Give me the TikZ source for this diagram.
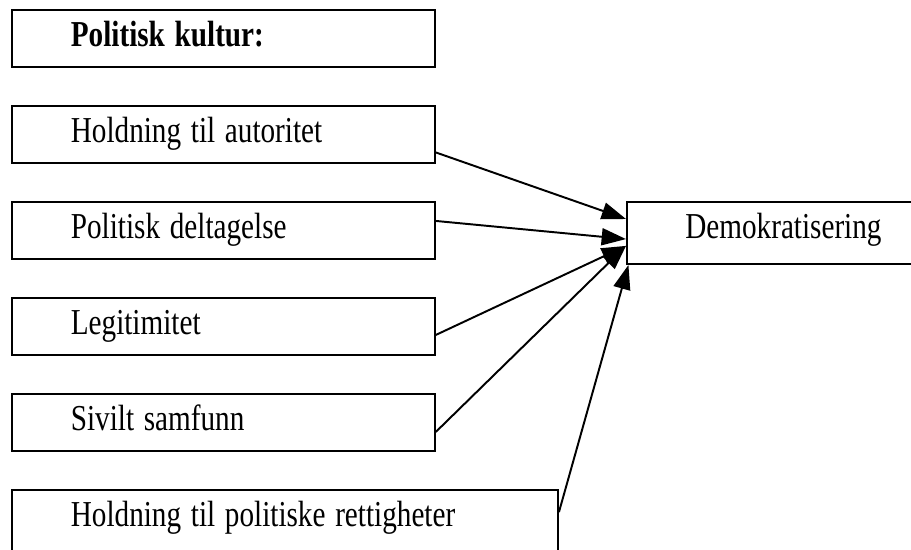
\documentclass[tikz,border=0pt]{standalone}
\usepackage{fontspec}
\setmainfont{Liberation Serif}
\usetikzlibrary{arrows.meta}
\newcommand\tekst[1]{\scalebox{1}[1.25]{#1}}

\begin{document}
\begin{tikzpicture}[x=0.411pt, y=-0.411pt, line width=0.8pt,
        faktor/.style={draw, anchor=north west, align=left, text width=125.4pt,
            inner xsep=24.2pt, inner ysep=4pt, text height=11pt, text depth=4.4pt,
            font=\fontsize{12}{14}\selectfont},
        pil/.style={-{Triangle[length=10pt,width=7pt]}}]
    \useasboundingbox (0,0) rectangle (911,550);
    \node[faktor] (kultur) at (11,9) {\tekst{\textbf{Politisk kultur:}}};
    \node[faktor] (autoritet) at (11,105) {\tekst{Holdning til autoritet}};
    \node[faktor] (deltagelse) at (11,201) {\tekst{Politisk deltagelse}};
    \node[faktor] (legitimitet) at (11,297) {\tekst{Legitimitet}};
    \node[faktor] (samfunn) at (11,393) {\tekst{Sivilt samfunn}};
    \node[faktor, text width=176pt, text depth=20pt] (rettigheter) at (11,489) {\tekst{Holdning til politiske rettigheter}};
    \node[faktor, align=center, inner xsep=4pt, text width=120.6pt, text depth=6.5pt] (demo) at (626,201) {\tekst{Demokratisering}};

    \draw[pil] ([yshift=-7.4pt]autoritet.east) -- ([yshift=5.75pt]demo.west);
    \draw[pil] ([yshift=3.9pt]deltagelse.east) -- ([yshift=-2.5pt]demo.west);
    \draw[pil] ([yshift=-3.5pt]legitimitet.east) -- ([yshift=-5.3pt]demo.west);
    \draw[pil] ([yshift=-3.9pt]samfunn.east) -- ([yshift=-5.3pt]demo.west);
    \draw[pil] ([yshift=-9.5pt]rettigheter.north east) -- ([xshift=1pt]demo.south west);
\end{tikzpicture}
\end{document}
